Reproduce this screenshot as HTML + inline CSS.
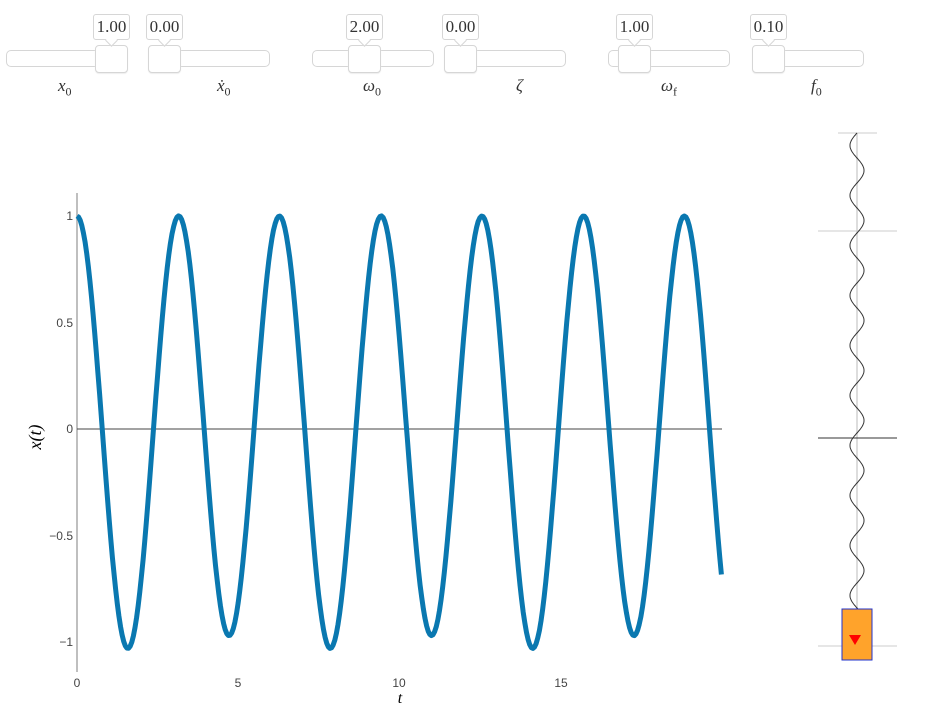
<!DOCTYPE html>
<html><head><meta charset="utf-8"><style>
body{margin:0;width:932px;height:719px;background:#fff;position:relative;overflow:hidden;font-family:"Liberation Sans",sans-serif}
.tr{position:absolute;height:17px;top:50px;border:1px solid #d6d6d6;border-radius:5px;background:#fff;box-sizing:border-box}
.hd{position:absolute;top:45px;width:33px;height:28px;border:1px solid #d6d6d6;border-radius:4px;background:#fff;box-sizing:border-box;box-shadow:0 1px 1px #eee}
.tp{position:absolute;top:14px;width:37px;height:26px;border:1px solid #d6d6d6;border-radius:3px;background:#fff;box-sizing:border-box;font-family:"Liberation Serif",serif;font-size:17px;text-align:center;line-height:24px;color:#333}
.tp:after{content:"";position:absolute;left:13px;bottom:-6px;width:8px;height:8px;background:#fff;border-right:1px solid #d6d6d6;border-bottom:1px solid #d6d6d6;transform:rotate(45deg)}
.lb{position:absolute;top:76px;font-family:"Liberation Serif",serif;font-style:italic;font-size:17px;color:#333}
.lb sub{font-style:normal;font-size:12px}
</style></head><body>
<div class="tr" style="left:6px;width:122px"></div><div class="hd" style="left:95px"></div><div class="tp" style="left:93px">1.00</div><div class="lb" style="left:58px">x<sub>0</sub></div>
<div class="tr" style="left:148px;width:122px"></div><div class="hd" style="left:148px"></div><div class="tp" style="left:146px">0.00</div><div class="lb" style="left:217px">ẋ<sub>0</sub></div>
<div class="tr" style="left:312px;width:122px"></div><div class="hd" style="left:348px"></div><div class="tp" style="left:346px">2.00</div><div class="lb" style="left:363px">ω<sub>0</sub></div>
<div class="tr" style="left:444px;width:122px"></div><div class="hd" style="left:444px"></div><div class="tp" style="left:442px">0.00</div><div class="lb" style="left:516px">ζ</div>
<div class="tr" style="left:608px;width:122px"></div><div class="hd" style="left:618px"></div><div class="tp" style="left:616px">1.00</div><div class="lb" style="left:661px">ω<sub>f</sub></div>
<div class="tr" style="left:752px;width:112px"></div><div class="hd" style="left:752px"></div><div class="tp" style="left:750px">0.10</div><div class="lb" style="left:811px">f<sub>0</sub></div>
<svg width="932" height="719" style="position:absolute;left:0;top:0" font-family="Liberation Sans, sans-serif">
<line x1="77" y1="193" x2="77" y2="672" stroke="#aaa" stroke-width="1.5"/>
<line x1="77" y1="429" x2="722" y2="429" stroke="#444" stroke-width="1"/>
<g font-size="12" fill="#444" text-anchor="end">
<text x="73" y="220">1</text><text x="73" y="327">0.5</text><text x="73" y="433">0</text><text x="73" y="540">−0.5</text><text x="73" y="646">−1</text></g>
<g font-size="12" fill="#444" text-anchor="middle">
<text x="77" y="687">0</text><text x="238" y="687">5</text><text x="399" y="687">10</text><text x="561" y="687">15</text></g>
<text x="400" y="703" font-family="Liberation Serif,serif" font-style="italic" font-size="16" text-anchor="middle">t</text>
<text transform="translate(41,437) rotate(-90)" font-family="Liberation Serif,serif" font-style="italic" font-size="18" text-anchor="middle">x(t)</text>
<polyline id="c" fill="none" stroke="#0a78b0" stroke-width="5" stroke-linejoin="round"/>
<line x1="857" y1="133" x2="857" y2="646" stroke="#ddd" stroke-width="2"/>
<line x1="838" y1="133" x2="877" y2="133" stroke="#ccc"/>
<line x1="818" y1="231" x2="897" y2="231" stroke="#ccc"/>
<line x1="818" y1="438" x2="897" y2="438" stroke="#333"/>
<line x1="818" y1="646" x2="897" y2="646" stroke="#ccc"/>
<polyline id="s" fill="none" stroke="#333" stroke-width="1"/>
<rect x="842" y="609" width="30" height="51" fill="#ffa32b" stroke="#2233cc" stroke-width="1"/>
<polygon points="849,635 861,635 855,645" fill="#f00"/>
</svg>
<script>
var p=[];for(var i=0;i<=400;i++){var t=i*0.05;var x=Math.cos(2*t)-0.03*Math.sin(t)+0.015*Math.sin(2*t);p.push((77+t*32.22).toFixed(1)+","+(429-x*213).toFixed(1));}
document.getElementById("c").setAttribute("points",p.join(" "));
var q=[];for(var y=133;y<=609;y+=1){var u=(y-133)/50;q.push((857-7*Math.sin(2*Math.PI*u)).toFixed(1)+","+y);}
document.getElementById("s").setAttribute("points",q.join(" "));
</script>
</body></html>
